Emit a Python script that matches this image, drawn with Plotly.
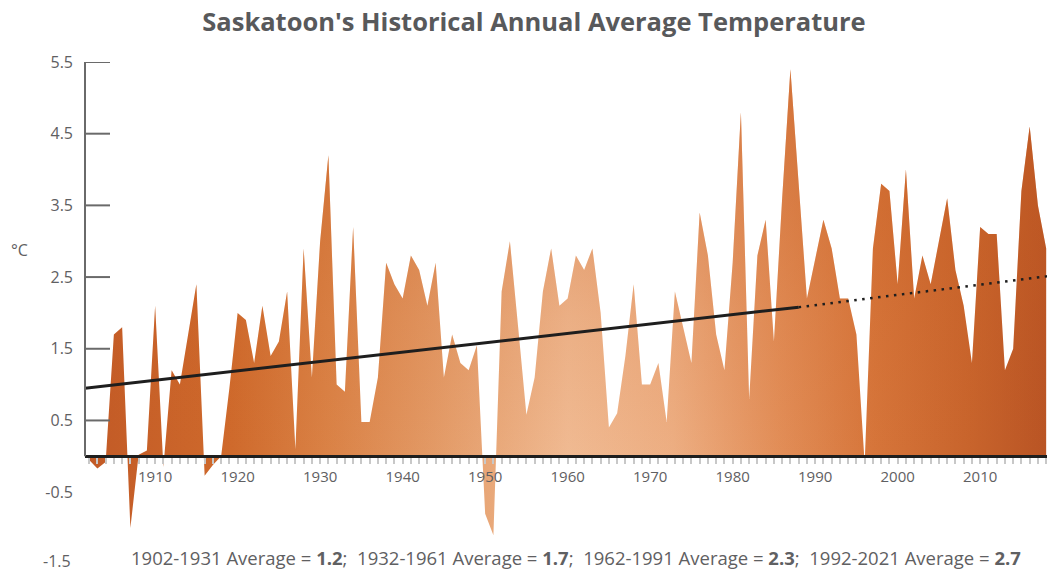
import plotly.graph_objects as go

# ---------------- data ----------------
years = list(range(1902, 2019))
temps = [
    -0.05, -0.17, -0.08, 1.70, 1.80, -1.00, 0.02, 0.08,            # 1902-1909
    2.10, -0.15, 1.20, 1.00, 1.70, 2.40, -0.27, -0.12, 0.00, 0.95,  # 1910-1919
    2.00, 1.90, 1.30, 2.10, 1.40, 1.60, 2.30, 0.10, 2.90, 1.10,     # 1920-1929
    3.00, 4.20, 1.00, 0.90, 3.20, 0.48, 0.48, 1.10, 2.70, 2.40,     # 1930-1939
    2.20, 2.80, 2.60, 2.10, 2.70, 1.10, 1.70, 1.30, 1.20, 1.55,     # 1940-1949
    -0.80, -1.10, 2.30, 3.00, 1.80, 0.58, 1.10, 2.30, 2.90, 2.10,   # 1950-1959
    2.20, 2.80, 2.60, 2.90, 2.00, 0.40, 0.60, 1.40, 2.40, 1.00,     # 1960-1969
    1.00, 1.30, 0.48, 2.30, 1.80, 1.30, 3.40, 2.80, 1.70, 1.20,     # 1970-1979
    2.70, 4.80, 0.80, 2.80, 3.30, 1.60, 3.60, 5.40, 3.80, 2.20,     # 1980-1989
    2.75, 3.30, 2.90, 2.20, 2.20, 1.70, -0.10, 2.90, 3.80, 3.70,    # 1990-1999
    2.40, 4.00, 2.20, 2.80, 2.40, 3.00, 3.60, 2.60, 2.10, 1.30,     # 2000-2009
    3.20, 3.10, 3.10, 1.20, 1.50, 3.70, 4.60, 3.50, 2.90,           # 2010-2018
]

# linear trend (solid part, then dotted continuation)
trend_solid_years = [1901.5, 1988]
trend_solid_vals = [0.95, 2.08]
trend_dotted_years = [1988, 2018.1]
trend_dotted_vals = [2.08, 2.51]

x_tick_years = [1910, 1920, 1930, 1940, 1950, 1960, 1970, 1980, 1990, 2000, 2010]
y_tick_vals = [-1.5, -0.5, 0.5, 1.5, 2.5, 3.5, 4.5, 5.5]
y_marked_ticks = [0.5, 1.5, 2.5, 3.5, 4.5, 5.5]
y_axis_top = 5.5

periods = ["1902-1931", "1932-1961", "1962-1991", "1992-2021"]
period_avgs = [1.2, 1.7, 2.3, 2.7]

title_text = "Saskatoon's Historical Annual Average Temperature"
unit_text = "°C"

x_range = [1901.5, 2018.1]
y_range = [-1.6, 5.5]

# ---------------- styling ----------------
FONT = "Open Sans"
GREY = "#5f6062"
fill_scale = [
    [0.00, "#c25a26"],
    [0.15, "#cf6a2c"],
    [0.25, "#da8246"],
    [0.36, "#e39a66"],
    [0.50, "#f0ba92"],
    [0.61, "#edae82"],
    [0.72, "#e28e58"],
    [0.82, "#d6753a"],
    [0.92, "#c8642c"],
    [1.00, "#b95424"],
]
shade_scale = [
    [0.0, "rgba(200,95,35,0)"],
    [0.35, "rgba(200,95,35,0.12)"],
    [1.0, "rgba(200,95,35,0.55)"],
]

fig = go.Figure()

fig.add_trace(go.Scatter(
    x=years, y=temps, mode="lines",
    line=dict(width=0, color="rgba(0,0,0,0)"),
    fill="tozeroy",
    fillgradient=dict(type="horizontal", start=years[0], stop=years[-1],
                      colorscale=fill_scale),
    hoverinfo="x+y", showlegend=False,
))
# vertical shading overlay on the same series (darker towards the peaks)
fig.add_trace(go.Scatter(
    x=years, y=temps, mode="lines",
    line=dict(width=0, color="rgba(0,0,0,0)"),
    fill="tozeroy",
    fillgradient=dict(type="vertical", start=0, stop=y_axis_top,
                      colorscale=shade_scale),
    hoverinfo="skip", showlegend=False,
))

fig.add_trace(go.Scatter(
    x=trend_solid_years, y=trend_solid_vals, mode="lines",
    line=dict(color="#1e1e1e", width=3), showlegend=False, hoverinfo="skip",
))
fig.add_trace(go.Scatter(
    x=trend_dotted_years, y=trend_dotted_vals, mode="lines",
    line=dict(color="#1e1e1e", width=2.5, dash="2.5px,5.5px"), showlegend=False,
    hoverinfo="skip",
))

zero_frac = (0 - y_range[0]) / (y_range[1] - y_range[0])

fig.update_xaxes(
    range=x_range, anchor="free", position=zero_frac, automargin=False,
    showline=True, linecolor="#1e1e1e", linewidth=3,
    showgrid=False, zeroline=False,
    tickmode="array", tickvals=x_tick_years, ticktext=[str(v) for v in x_tick_years],
    ticks="outside", ticklen=6, tickcolor="#c8c8c8", tickwidth=1.5,
    minor=dict(dtick=1, tick0=1900, ticks="outside", ticklen=6,
               tickcolor="#c8c8c8", tickwidth=1.5, showgrid=False),
    tickfont=dict(family=FONT, size=15, color=GREY),
    ticklabelstandoff=0,
)

# the lowest label sits at the very bottom edge; draw it as an annotation nudged up
axis_labels = y_tick_vals[1:]
edge_label = y_tick_vals[0]

fig.update_yaxes(
    range=y_range, automargin=False, showline=False, showgrid=False, zeroline=False,
    tickmode="array", tickvals=axis_labels,
    ticktext=[f"{v:.1f}" for v in axis_labels],
    ticks="", tickfont=dict(family=FONT, size=16, color=GREY),
    ticklabelstandoff=11,
)

shapes = [dict(type="line", xref="paper", yref="y", x0=0, x1=0, y0=0, y1=y_axis_top,
               line=dict(color="#6a6a6a", width=2))]
for v in y_marked_ticks:
    shapes.append(dict(type="line", xref="paper", yref="y", x0=0, x1=0.026,
                       y0=v, y1=v, line=dict(color="#6a6a6a", width=2)))

summary = ";  ".join(f"{p} Average = <b>{a:.1f}</b>" for p, a in zip(periods, period_avgs))

fig.update_layout(
    width=1047, height=571,
    margin=dict(l=85, r=0, t=62, b=0, autoexpand=False),
    paper_bgcolor="white", plot_bgcolor="white",
    title=dict(text=f"<b>{title_text}</b>", x=0.51, xref="container", xanchor="center",
               y=1 - 13 / 571, yref="container", yanchor="top",
               font=dict(family=FONT, size=25.5, color="#58595b")),
    shapes=shapes,
    annotations=[
        dict(text=f"{edge_label:.1f}", xref="paper", x=0, xanchor="right", xshift=-12,
             yref="y", y=edge_label, yanchor="middle", yshift=3, showarrow=False,
             font=dict(family=FONT, size=16, color=GREY)),
        dict(text=unit_text, xref="paper", yref="paper", x=-0.079, y=0.63,
             showarrow=False, font=dict(family=FONT, size=16, color=GREY)),
        dict(text=summary, xref="paper", xanchor="center", x=0.51,
             yref="paper", y=0.027, yanchor="middle", showarrow=False,
             font=dict(family=FONT, size=18.5, color=GREY)),
    ],
    showlegend=False,
)

fig.write_html(
    "out.html",
    config={"displayModeBar": False},
    post_script="document.body.style.margin='0';document.body.style.overflow='hidden';",
)
